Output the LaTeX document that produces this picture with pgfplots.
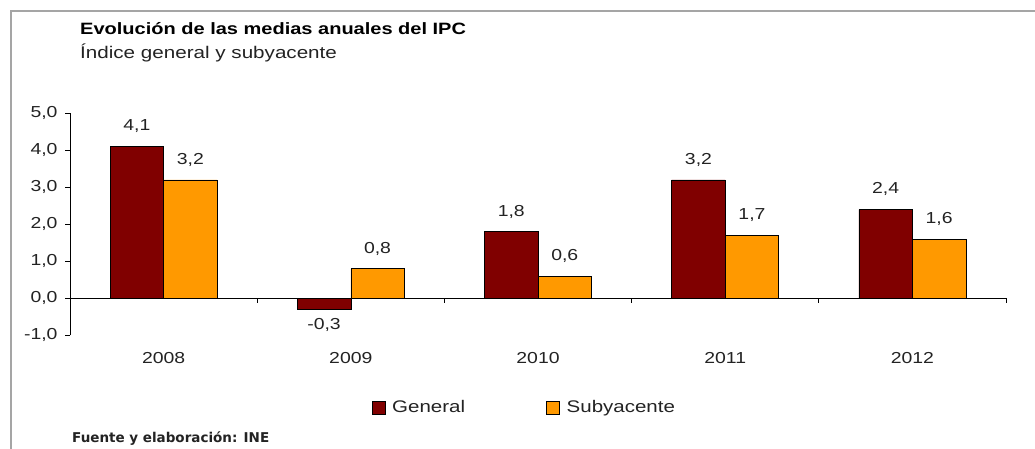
\documentclass[border=0pt]{standalone}
\usepackage{fontspec}
\setmainfont{Liberation Sans}[FakeStretch=1.22]
\newfontfamily\footfont{DejaVu Sans}
\usepackage{pgfplots}
\pgfplotsset{compat=1.18}
\definecolor{general}{RGB}{128,0,0}
\definecolor{suby}{RGB}{255,153,0}
\definecolor{framec}{RGB}{165,165,165}
\definecolor{txt}{RGB}{35,35,35}
\pgfplotsset{sqlegend/.style={legend image code/.code={\draw[##1,draw=black,line width=0.6pt] (0pt,-6.5pt) rectangle (13pt,6.5pt);}}}
\begin{document}
\begin{tikzpicture}
\useasboundingbox (0pt,0pt) rectangle (1035pt,-448pt);
\fill[white] (0pt,0pt) rectangle (1035pt,-448pt);
\draw[framec, line width=1.5pt] (11pt,-449pt) -- (11pt,-11pt) -- (1036pt,-11pt);
\node[anchor=base west, inner sep=0, font=\fontsize{16.4}{19}\selectfont\bfseries] at (80pt,-34pt) {Evolución de las medias anuales del IPC};
\node[anchor=base west, inner sep=0, font=\fontsize{16.9}{20}\selectfont, text=txt] at (80pt,-58pt) {Índice general y subyacente};
\node[anchor=base west, inner sep=0, font=\footfont\bfseries\fontsize{13.5}{16}\selectfont, text=txt] at (72pt,-442.7pt) {Fuente y elaboración: INE};
\begin{axis}[
  at={(70pt,-335.3pt)}, anchor=south west, scale only axis,
  width=936pt, height=222pt,
  xmin=-0.5, xmax=4.5, ymin=-1, ymax=5,
  axis y line*=left, axis x line*=bottom,
  x axis line style={draw=none},
  y axis line style={black, line width=0.8pt},
  xtick={0,1,2,3,4}, xticklabels={2008,2009,2010,2011,2012},
  xtick style={draw=none},
  ytick={-1,0,1,2,3,4,5},
  tick align=outside, major tick length=5pt,
  ytick style={black, line width=0.8pt},
  /pgf/number format/use comma,
  /pgf/number format/fixed,
  /pgf/number format/fixed zerofill,
  /pgf/number format/precision=1,
  /pgf/number format/assume math mode=true,
  tick label style={font=\fontsize{15.9}{18}\selectfont, text=txt},
  xticklabel style={yshift=-9pt},
  yticklabel style={xshift=-4pt},
  ybar=0pt, bar width=53.5pt,
  nodes near coords={\pgfmathprintnumber{\pgfplotspointmeta}},
  visualization depends on={rawy \as \rawy},
  nodes near coords style={font=\fontsize{15.9}{18}\selectfont, text=txt, anchor=base, yshift={ifthenelse(\rawy>0,15.7,-20.3)}},
  legend columns=2,
  legend style={draw=none, fill=none, at={(0.322,-0.325)}, anchor=west, inner sep=0pt,
    font=\fontsize{16.8}{20}\selectfont, text=txt,
    /tikz/every odd column/.append style={column sep=5pt},
    /tikz/every even column/.append style={column sep=79pt}},
  clip=false,
]
\addplot[fill=general, draw=black, line width=0.6pt, sqlegend] coordinates {(0,4.1) (1,-0.3) (2,1.8) (3,3.2) (4,2.4)};
\addlegendentry{General}
\addplot[fill=suby, draw=black, line width=0.6pt, sqlegend] coordinates {(0,3.2) (1,0.8) (2,0.6) (3,1.7) (4,1.6)};
\addlegendentry{Subyacente}
\draw[black, line width=0.8pt] (axis cs:-0.5,0) -- (axis cs:4.5,0);
\pgfplotsinvokeforeach{0.5,1.5,2.5,3.5,4.5}{\draw[black, line width=0.8pt] (axis cs:#1,0) -- ++(0pt,-5pt);}
\end{axis}
\end{tikzpicture}
\end{document}
